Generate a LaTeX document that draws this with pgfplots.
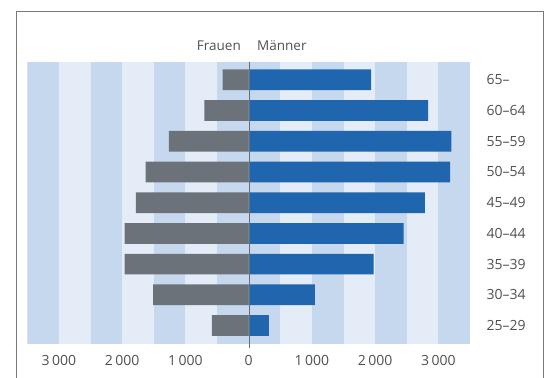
\documentclass[border=0pt]{standalone}
\usepackage{pgfplots}
\pgfplotsset{compat=1.18}
\usepackage{fontspec}
\setmainfont{Open Sans}
\definecolor{stripeD}{HTML}{C6D8EE}
\definecolor{stripeL}{HTML}{E4ECF7}
\definecolor{barblue}{HTML}{1F66AE}
\definecolor{bargray}{HTML}{6B7279}
\definecolor{txt}{HTML}{505050}
\definecolor{frame}{HTML}{7A7A7A}
\definecolor{zline}{HTML}{6E6E6E}
\begin{document}
\begin{tikzpicture}[x=1pt,y=1pt]
\path[use as bounding box] (0,0) rectangle (547,378);
\begin{axis}[
  at={(27.3pt,34pt)}, anchor=south west,
  scale only axis, width=442.7pt, height=282pt,
  xmin=-3500, xmax=3500, ymin=-0.6, ymax=8.58,
  axis line style={draw=none},
  major tick length=0pt,
  xtick={-3000,-2000,-1000,0,1000,2000,3000},
  xticklabels={3\,000,2\,000,1\,000,0,1\,000,2\,000,3\,000},
  ytick={0,1,2,3,4,5,6,7,8},
  yticklabels={25--29,30--34,35--39,40--44,45--49,50--54,55--59,60--64,65--},
  yticklabel pos=right,
  tick label style={font=\fontsize{14}{16}\selectfont, text=txt},
  xticklabel style={yshift=-8pt},
  yticklabel style={anchor=west, xshift=13pt},
  xbar, bar shift=0pt, bar width=0.674,
]
\fill[stripeL] (axis cs:-3500,-0.6) rectangle (axis cs:3500,8.58);
\fill[stripeD] (axis cs:-3500,-0.6) rectangle (axis cs:-3000,8.58);
\fill[stripeD] (axis cs:-2500,-0.6) rectangle (axis cs:-2000,8.58);
\fill[stripeD] (axis cs:-1500,-0.6) rectangle (axis cs:-1000,8.58);
\fill[stripeD] (axis cs:-500,-0.6) rectangle (axis cs:500,8.58);
\fill[stripeD] (axis cs:1000,-0.6) rectangle (axis cs:1500,8.58);
\fill[stripeD] (axis cs:2000,-0.6) rectangle (axis cs:2500,8.58);
\fill[stripeD] (axis cs:3000,-0.6) rectangle (axis cs:3500,8.58);
% Frauen
\addplot[fill=bargray, draw=none] coordinates {
 (-580,0) (-1509,1) (-1961,2) (-1961,3) (-1783,4) (-1630,5) (-1263,6) (-700,7) (-413,8)};
% Maenner
\addplot[fill=barblue, draw=none] coordinates {
 (320,0) (1046,1) (1976,2) (2450,3) (2787,4) (3186,5) (3207,6) (2839,7) (1935,8)};
\end{axis}
\draw[zline, line width=0.6pt] (249,316) -- (249,30);
\node[anchor=base east, inner sep=0, text=txt, font=\fontsize{13.5}{16}\selectfont] at (241,327.3) {Frauen};
\node[anchor=base west, inner sep=0, text=txt, font=\fontsize{13.5}{16}\selectfont] at (257,327.3) {Männer};
\draw[frame, line width=0.9pt] (16.7,-10) rectangle (543,367);
\end{tikzpicture}
\end{document}
